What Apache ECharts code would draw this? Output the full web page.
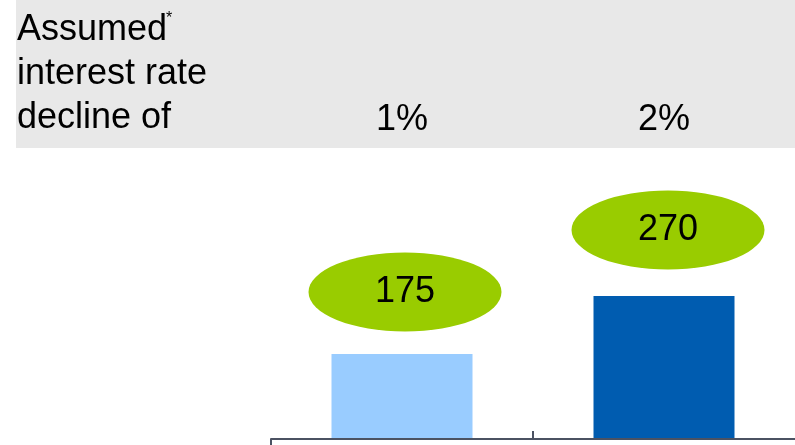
<!DOCTYPE html>
<html>
<head>
<meta charset="utf-8">
<script src="https://cdn.jsdelivr.net/npm/echarts@6/dist/echarts.min.js"></script>
<style>
  html, body { margin: 0; padding: 0; background: #fff; }
  #chart { width: 795px; height: 445px; }
</style>
</head>
<body>
<div id="chart"></div>
<script>
// data
const categories = ['1%', '2%'];
const values = [175, 270];
const barColors = ['#99ccff', '#005cb0'];
const headerLines = ['Assumed', 'interest rate', 'decline of'];

const FONT = 'Liberation Sans, Arial, sans-serif';
const AXIS = '#4b5262';

let myChart = echarts.init(document.getElementById('chart'));

// bubbles above the bars, shifted up from the bar top
const bubbleOffsets = [[3, -62], [4, -66]];

myChart.setOption({
  animation: false,
  grid: { left: 271, right: -4, top: 148, bottom: 6 },
  graphic: [
    { type: 'rect', left: 16, top: 0, shape: { width: 779, height: 148 }, style: { fill: '#e8e8e8' }, z: -10 },
    ...headerLines.map((t, i) => ({
      type: 'text', x: 17, y: 30 + i * 44,
      style: { text: t, font: '36px ' + FONT, fill: '#000', verticalAlign: 'middle' }
    })),
    { type: 'text', x: 166, y: 19, style: { text: '*', font: '16px ' + FONT, fill: '#000', verticalAlign: 'middle' } }
  ],
  xAxis: [
    {
      type: 'category',
      position: 'bottom',
      data: categories,
      axisLine: { show: true, lineStyle: { color: AXIS, width: 2 } },
      axisTick: { show: false },
      axisLabel: { show: false },
      z: 10
    },
    {
      // middle separator tick, pointing up
      type: 'value', position: 'bottom', min: 0, max: 2,
      axisLine: { show: false },
      splitLine: { show: false },
      axisTick: { show: true, inside: true, length: 8, customValues: [1], lineStyle: { color: AXIS, width: 2 } },
      axisLabel: { show: false },
      z: 10
    },
    {
      // left end tick, pointing down
      type: 'value', position: 'bottom', min: 0, max: 2,
      axisLine: { show: false },
      splitLine: { show: false },
      axisTick: { show: true, length: 6, customValues: [0], lineStyle: { color: AXIS, width: 2 } },
      axisLabel: { show: false },
      z: 10
    },
    {
      type: 'category',
      position: 'top',
      data: categories,
      axisLine: { show: false },
      axisTick: { show: false },
      axisLabel: { show: true, fontSize: 36, fontFamily: FONT, color: '#000', margin: 10 }
    }
  ],
  yAxis: {
    type: 'value',
    min: 36,
    max: 512,
    show: false
  },
  series: [
    {
      type: 'bar',
      barWidth: 141,
      data: values.map((v, i) => ({ value: v, itemStyle: { color: barColors[i] } }))
    },
    {
      type: 'scatter',
      symbol: 'circle',
      symbolSize: [193, 79],
      itemStyle: { color: '#99cc00', opacity: 1 },
      label: { show: true, position: 'inside', fontSize: 36, fontFamily: FONT, color: '#000',
        formatter: (p) => p.value },
      data: values.map((v, i) => ({ value: v, symbolOffset: bubbleOffsets[i] })),
      z: 5
    }
  ]
});
</script>
</body>
</html>
